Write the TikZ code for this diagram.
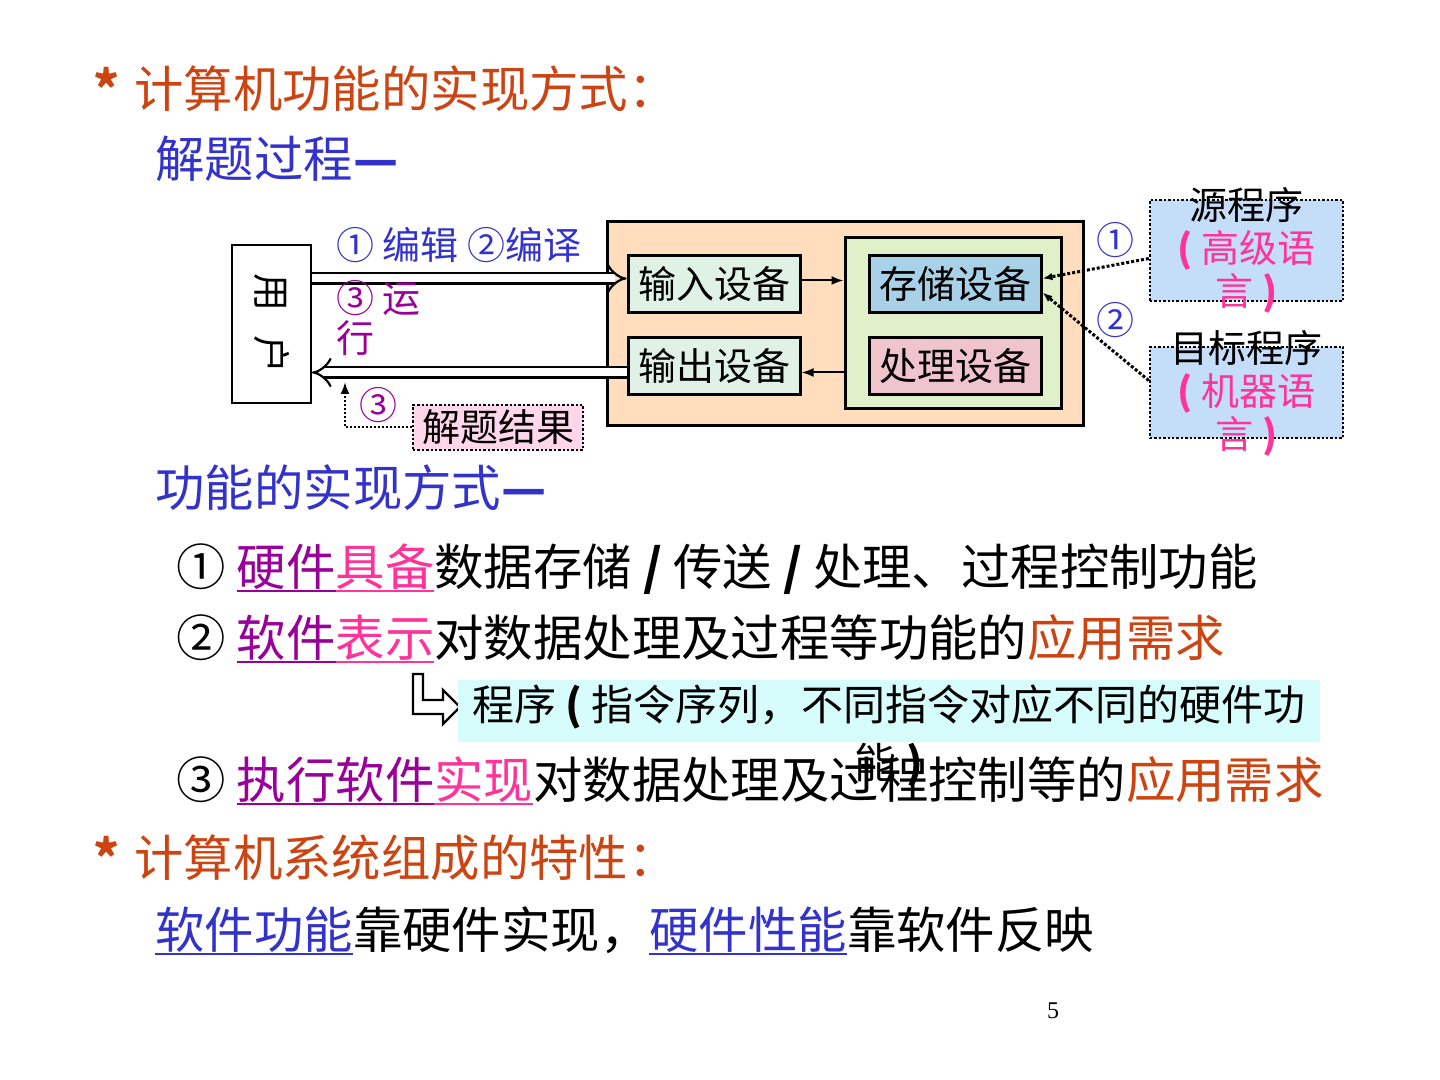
\documentclass[tikz,border=0pt]{standalone}
\usepackage{fontspec}
\setmainfont{Noto Sans CJK SC}
\newfontfamily\numfont{Liberation Serif}
\usetikzlibrary{arrows.meta,positioning}
\definecolor{ttl}{RGB}{204,68,17}
\definecolor{blu}{RGB}{51,51,204}
\definecolor{pur}{RGB}{153,0,153}
\definecolor{pk}{RGB}{255,51,153}
\definecolor{peach}{RGB}{255,221,189}
\definecolor{iob}{RGB}{224,242,230}
\definecolor{coreb}{RGB}{224,240,200}
\definecolor{memb}{RGB}{168,208,230}
\definecolor{cpub}{RGB}{240,196,204}
\definecolor{srcb}{RGB}{196,222,250}
\definecolor{resb}{RGB}{255,214,234}
\definecolor{cyb}{RGB}{214,252,252}
\newcommand{\undl}[1]{\leavevmode\vtop{\hbox{#1}\kern0.4pt\hrule height 1.2pt}}

\begin{document}
\begin{tikzpicture}[x=0.5pt, y=-0.5pt,
        frame/.style={draw, line width=1.5pt, inner sep=0pt},
        dev/.style={frame, minimum width=86pt, minimum height=28.5pt, font=\fontsize{19}{22}\selectfont},
        dotbox/.style={draw, densely dotted, line width=1.2pt, inner sep=0pt},
        note/.style={inner sep=0pt, align=center, font=\fontsize{19}{21.5}\selectfont},
        lbl/.style={inner sep=0pt, font=\fontsize{19}{22}\selectfont},
        txt/.style={anchor=base west, inner sep=0pt, font=\fontsize{24.7}{30}\selectfont},
        dblarrow/.style={double, double distance=4pt, line width=1.1pt, -{Implies[scale=1.4]}},
        dotarrow/.style={densely dotted, line width=1.5pt, -{Latex[length=5pt]}}
    ]
        \useasboundingbox (0,0) rectangle (1440,1080);

        \node[txt, text=ttl] (head1) at (93,108) {\textbf{*}\hspace{0.3em}计算机功能的实现方式：};
        \node[txt, text=blu] (solve) at (155,178) {解题过程\textbf{—}};

        \node[frame, fill=peach, minimum width=238pt, minimum height=102pt] (host) at (845,324) {};
        \node[frame, line width=1pt, fill=white, minimum width=39.5pt, minimum height=79pt, font=\fontsize{19}{22}\selectfont] (user) at (271.5,324) {\rotatebox{-90}{用\hspace{12pt}户}};
        \node[frame, fill=coreb, minimum width=108pt, minimum height=85.5pt] (core) at (953,323.5) {};
        \node[dev, fill=iob] (in) at (714,284.5) {输入设备};
        \node[dev, fill=iob, below=11pt of in] (out) {输出设备};
        \node[dev, fill=memb, right=33pt of in] (mem) {存储设备};
        \node[dev, fill=cpub, below=11pt of mem] (cpu) {处理设备};

        \node[dotbox, fill=srcb, minimum width=96.5pt, minimum height=50.5pt] (src) at (1246.5,250.5) {};
        \node[note] (srctxt) at (src.center) {源程序\\{\color{pk}\textbf{(} 高级语}\\{\color{pk}言 \textbf{)}}};
        \node[dotbox, fill=srcb, minimum width=96.5pt, minimum height=45.5pt] (obj) at (1246.5,392.5) {};
        \node[note] (objtxt) at ([yshift=-0.5pt]obj.center) {目标程序\\{\color{pk}\textbf{(} 机器语}\\{\color{pk}言 \textbf{)}}};
        \node[dotbox, fill=resb, minimum width=85pt, minimum height=22.5pt, font=\fontsize{19}{22}\selectfont] (res) at (498,427.5) {解题结果};

        \draw[dblarrow] ([yshift=3pt]user.east |- in.west) -- ([yshift=3pt]in.west);
        \draw[dblarrow] ([yshift=-3pt]out.west) -- ([yshift=-3pt]user.east |- out.west);
        \draw[line width=1pt, -{Latex[length=6pt]}] ([yshift=2pt]in.east) -- ([yshift=2pt]core.west |- in.east);
        \draw[line width=1pt, -{Latex[length=6pt]}] ([yshift=-3pt]core.west |- out.east) -- ([yshift=-3pt]out.east);
        \draw[dotarrow] ([yshift=-4pt]src.west) -- ([yshift=3pt]mem.east);
        \draw[dotarrow] ([yshift=6pt]obj.west) -- ([yshift=-4pt]mem.east);
        \coordinate (fb) at (345,382);
        \draw[densely dotted, line width=1pt, -{Latex[length=6pt]}] (res.west) -| (fb);

        \node[lbl, anchor=west, text=blu] (step12) at (336,245) {① 编辑 ②编译};
        \node[lbl, anchor=west, text=pur, align=left, font=\fontsize{19}{20}\selectfont] (step3) at (336,318) {③ 运\\行};
        \node[lbl, text=pur] (fbnum) at (378,405) {③};
        \node[lbl, text=blu] (n1) at (1115,240) {①};
        \node[lbl, text=blu] (n2) at (1115,320) {②};

        \node[txt, text=blu] (how) at (155,506) {功能的实现方式\textbf{—}};
        \node[txt] (way1) at (176,585) {① {\color{pur}\undl{硬件}}{\color{pk}\undl{具备}}数据存储 \textbf{/} 传送 \textbf{/} 处理、过程控制功能};
        \node[txt] (way2) at (176,656) {② {\color{pur}\undl{软件}}{\color{pk}\undl{表示}}对数据处理及过程等功能的{\color{ttl}应用需求}};

        \draw[line width=1.2pt, fill=white] (413,674) -- (423,674) -- (423,700) -- (443,700) -- (443,690)
            -- (460,707) -- (443,724) -- (443,714) -- (413,714) -- cycle;
        \node[fill=cyb, minimum width=431pt, minimum height=31pt, inner sep=0pt] (prog) at (889,711) {};
        \node[inner sep=0pt, align=center, font=\fontsize{21}{29}\selectfont] (progtxt) at ([yshift=-12.5pt]prog.center) {程序 \textbf{(} 指令序列，不同指令对应不同的硬件功\\能 \textbf{)}};

        \node[txt] (way3) at (176,798) {③ {\color{pur}\undl{执行软件}}{\color{pk}\undl{实现}}对数据处理及过程控制等的{\color{ttl}应用需求}};
        \node[txt, text=ttl] (head2) at (93,876) {\textbf{*}\hspace{0.3em}计算机系统组成的特性：};
        \node[txt] (trait) at (155,948) {{\color{blu}\undl{软件功能}}靠硬件实现，{\color{blu}\undl{硬件性能}}靠软件反映};
        \node[anchor=base, inner sep=0pt, font=\numfont\fontsize{12}{14}\selectfont] (page) at (1053,1018) {5};
    \end{tikzpicture}
\end{document}
